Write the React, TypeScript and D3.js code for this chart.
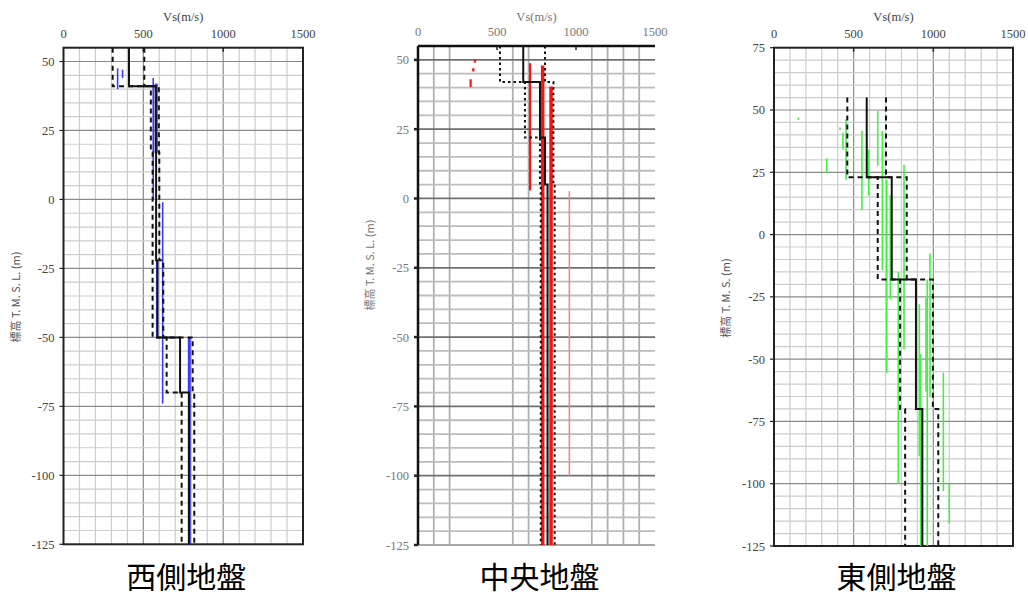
import React, { useRef, useEffect } from 'react';
import * as d3 from 'd3';

const vsTicks = [0, 500, 1000, 1500];

// 西側地盤: layer boundaries (m) and Vs model (m/s)
const westBounds = [55, 41, 17, -22, -50, -70, -125];
const westVs = [410, 578, 580, 589, 730, 786];
const westVsLow = [308, 547, 558, 558, 646, 740];
const westVsHigh = [506, 597, 600, 625, 809, 819];
// PS logging segments [Vs, top, bottom]
const westLogs = [
  [339, 47.5, 40], [370, 47, 44], [562, 44, 0], [621, -1, -74], [584, -22, -50],
];
const westLogsMain = [[581, 42, 17], [788, -50, -125]];

// 中央地盤
const midBounds = [55, 42, 22, 5, -125];
const midVs = [666, 772, 804, 820];
const midVsLow = [519, 677, 772, 777];
const midVsHigh = [804, 857, 857, 865];
const midLogs = [[360, 50.2, 49], [350, 47, 45.8], [333, 43, 40.2], [709, 48.8, 2.9]];
const midLogsMain = [[789, 48, -125], [842, 40.4, -125]];
const midLogsFaint = [[958, 2.7, -100]];
const midGridVs = [100, 200, 600, 700, 1100, 1200, 1300, 1400];

// 東側地盤
const eastBounds = [55, 23, -18, -70, -125];
const eastVs = [582, 739, 891, 931];
const eastVsLow = [460, 651, 791, 823];
const eastVsHigh = [703, 833, 997, 1031];
const eastLogs = [
  [153, 47, 46], [331, 30.6, 24.6], [414, 43, 42], [433, 41, 34], [452, 46.3, 22],
  [552, 41.7, 9.8], [594, 34, 15.8], [651, 49.6, 27.6], [680, 41.6, -14.3],
  [708, 22, -55.5], [730, 15.8, -26], [780, -15, -100], [816, 28, -46],
  [912, -28, -89], [921, -48, -125], [954, -25.5, -63], [962, -18, -125],
  [979, -7.6, -65], [1063, -55.5, -103], [1100, -100, -116],
];

const serif = '"Liberation Serif", "DejaVu Serif", serif';
const cjk = '"Noto Sans CJK JP", sans-serif';

const panels = [
  {
    left: 63.5, right: 303, top: 47.7, bottom: 544.3, yDomain: [-125, 55],
    title: '西側地盤', yLabel: '標高 T. M. S. L. (m)', yLabelY: 297,
    bounds: westBounds, vs: westVs, low: westVsLow, high: westVsHigh,
    logs: westLogs, logsMain: westLogsMain, logsFaint: [],
    color: '#3a3aff', style: 'box',
  },
  {
    left: 418, right: 655, top: 46, bottom: 545, yDomain: [-125, 55],
    title: '中央地盤', yLabel: '標高 T. M. S. L. (m)', yLabelY: 265,
    bounds: midBounds, vs: midVs, low: midVsLow, high: midVsHigh,
    logs: midLogs, logsMain: midLogsMain, logsFaint: midLogsFaint,
    color: '#ff1010', style: 'open',
  },
  {
    left: 774, right: 1013, top: 47.7, bottom: 546, yDomain: [-125, 75],
    title: '東側地盤', yLabel: '標高 T. M. S. (m)', yLabelY: 298,
    bounds: eastBounds, vs: eastVs, low: eastVsLow, high: eastVsHigh,
    logs: eastLogs, logsMain: [], logsFaint: [],
    color: '#44f044', style: 'box',
  },
];

const drawPanel = (svg, p) => {
  const x = d3.scaleLinear().domain([0, 1500]).range([p.left, p.right]);
  const y = d3.scaleLinear().domain(p.yDomain).range([p.bottom, p.top]);
  const open = p.style === 'open';
  const g = svg.append('g');

  // grid
  const gridV = open ? midGridVs : d3.range(100, 1500, 100);
  const gridH = d3.range(p.yDomain[0] + 5, p.yDomain[1], 5);
  g.append('g').selectAll('line').data(gridV).join('line')
    .attr('x1', d => x(d)).attr('x2', d => x(d))
    .attr('y1', p.top).attr('y2', p.bottom)
    .attr('stroke', d => (open ? '#b0b0b0' : d % 500 === 0 ? '#8a8a8a' : '#cdcdcd'))
    .attr('stroke-width', open ? 1.8 : 1.2);
  g.append('g').selectAll('line').data(gridH).join('line')
    .attr('x1', p.left).attr('x2', p.right)
    .attr('y1', d => y(d)).attr('y2', d => y(d))
    .attr('stroke', d => (d % 25 === 0 ? (open ? '#707070' : '#8a8a8a') : open ? '#bdbdbd' : '#cdcdcd'))
    .attr('stroke-width', open ? 1.8 : 1.2);

  // borders
  if (open) {
    g.append('line').attr('x1', p.left).attr('x2', p.right).attr('y1', p.bottom).attr('y2', p.bottom)
      .attr('stroke', '#a8a8a8').attr('stroke-width', 2);
    g.append('line').attr('x1', p.left).attr('x2', p.right).attr('y1', p.top).attr('y2', p.top)
      .attr('stroke', '#111').attr('stroke-width', 2.5);
    g.append('line').attr('x1', p.left).attr('x2', p.left).attr('y1', p.top).attr('y2', p.bottom)
      .attr('stroke', '#111').attr('stroke-width', 2.5);
  } else {
    g.append('rect').attr('x', p.left).attr('y', p.top)
      .attr('width', p.right - p.left).attr('height', p.bottom - p.top)
      .attr('fill', 'none').attr('stroke', '#222').attr('stroke-width', 2);
  }

  // ticks
  const yTicks = d3.range(p.yDomain[0], p.yDomain[1] + 1, 25);
  g.append('g').selectAll('line').data(yTicks).join('line')
    .attr('x1', p.left - 4).attr('x2', p.left)
    .attr('y1', d => y(d)).attr('y2', d => y(d))
    .attr('stroke', '#222').attr('stroke-width', open ? 2.5 : 1.2);
  g.append('g').selectAll('line').data([500, 1000]).join('line')
    .attr('x1', d => x(d)).attr('x2', d => x(d))
    .attr('y1', p.top).attr('y2', p.top + 4)
    .attr('stroke', '#222').attr('stroke-width', 1.5);

  const labelColor = open ? '#777' : '#444';
  g.append('g').selectAll('text').data(yTicks).join('text')
    .attr('x', p.left - 9).attr('y', d => y(d) + 4.5)
    .attr('text-anchor', 'end').attr('font-family', serif).attr('font-size', 12.5)
    .attr('fill', labelColor).text(d => d);
  g.append('g').selectAll('text').data(vsTicks).join('text')
    .attr('x', d => x(d)).attr('y', p.top - 10)
    .attr('text-anchor', 'middle').attr('font-family', serif).attr('font-size', 12.5)
    .attr('fill', labelColor).text(d => d);

  g.append('text').attr('x', (p.left + p.right) / 2).attr('y', 21)
    .attr('text-anchor', 'middle').attr('font-family', serif).attr('font-size', 12.5)
    .attr('fill', labelColor).text('Vs(m/s)');
  g.append('text')
    .attr('transform', `translate(${p.left - 44},${p.yLabelY}) rotate(-90)`)
    .attr('text-anchor', 'middle').attr('font-family', cjk).attr('font-size', 11)
    .attr('fill', open ? '#777' : '#555').text(p.yLabel);

  // measured segments
  const seg = (data, width, color) => g.append('g').selectAll('line').data(data).join('line')
    .attr('x1', d => x(d[0])).attr('x2', d => x(d[0]))
    .attr('y1', d => y(d[1])).attr('y2', d => y(d[2]))
    .attr('stroke', color).attr('stroke-width', width);
  seg(p.logsFaint, 1.6, '#f28a8a');
  seg(p.logs, open ? 2.2 : 1.6, p.color);
  seg(p.logsMain, open ? 3.5 : 3, p.color);

  // model step lines
  const steps = vs => vs.flatMap((v, i) => [[v, p.bounds[i]], [v, p.bounds[i + 1]]]);
  const line = d3.line().x(d => x(d[0])).y(d => y(d[1]));
  [p.low, p.high].forEach(vs => {
    g.append('path').attr('d', line(steps(vs)))
      .attr('fill', 'none').attr('stroke', '#111').attr('stroke-width', 2)
      .attr('stroke-dasharray', open ? '2.5,3' : '5,4');
  });
  g.append('path').attr('d', line(steps(p.vs)))
    .attr('fill', 'none').attr('stroke', '#111').attr('stroke-width', 2);

  svg.append('text').attr('x', (p.left + p.right) / 2 + 3).attr('y', 588)
    .attr('text-anchor', 'middle').attr('font-family', cjk).attr('font-size', 30)
    .attr('fill', '#000').text(p.title);
};

const App = () => {
  const svgRef = useRef(null);

  useEffect(() => {
    const svg = d3.select(svgRef.current);
    svg.selectAll('*').remove();
    panels.forEach(p => drawPanel(svg, p));
  }, []);

  return (
    <svg ref={svgRef} width="1028" height="598"
      style={{ position: 'absolute', left: 0, top: 0, background: '#fff' }}></svg>
  );
};

export default App;
